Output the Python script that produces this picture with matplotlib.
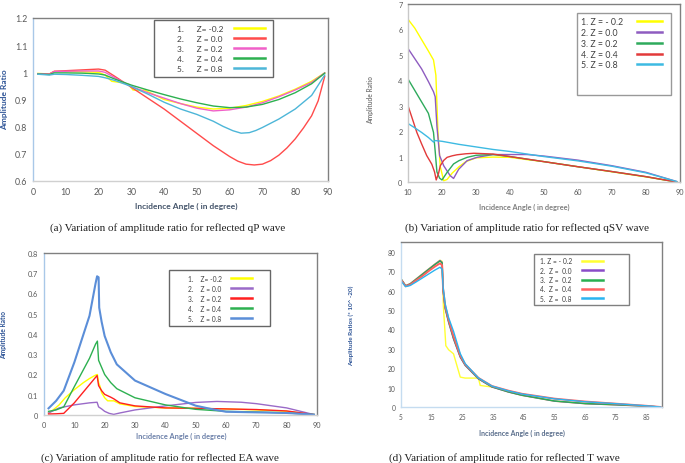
import matplotlib
matplotlib.use("Agg")
import matplotlib.pyplot as plt
from matplotlib.lines import Line2D
from matplotlib.offsetbox import HPacker, DrawingArea

# ---------------- data ----------------
# (a) qP wave
qp_labels = ["1.      Z= -0.2", "2.      Z = 0.0", "3.      Z = 0.2", "4.      Z = 0.4", "5.      Z = 0.8"]
qp_x = [1.5, 5, 6.5, 10, 15, 20, 22, 25, 30, 35, 40, 45, 50, 55, 60, 65, 70, 75, 80, 85, 89]
qp_red_x = [1.5, 5, 6.5, 10, 15, 20, 22, 25, 30, 35, 40, 45, 50, 55, 60, 62.5, 65, 67.5, 70, 72.5, 75, 77.5, 80,
            82.5, 85, 87, 89]
qp_red = [0.995, 0.994, 1.004, 1.006, 1.009, 1.012, 1.008, 0.985, 0.945, 0.905, 0.865, 0.82, 0.775, 0.73, 0.69,
          0.673, 0.662, 0.659, 0.662, 0.675, 0.695, 0.722, 0.755, 0.795, 0.84, 0.895, 0.985]
qp_yel_x = [1.5, 5, 6.5, 10, 15, 20, 22, 24, 27, 29, 30.5, 33, 34, 40, 45, 50, 55, 60, 65, 70, 75, 80, 85, 89]
qp_yel = [0.996, 0.994, 1.003, 1.003, 1.002, 1.0, 0.99, 0.967, 0.962, 0.957, 0.935, 0.933, 0.935, 0.9, 0.885,
          0.872, 0.865, 0.868, 0.878, 0.893, 0.913, 0.938, 0.967, 0.998]
qp_pink = [0.995, 0.993, 1.003, 1.004, 1.005, 1.005, 1.0, 0.98, 0.948, 0.925, 0.905, 0.885, 0.868, 0.858, 0.862,
           0.872, 0.888, 0.91, 0.935, 0.963, 0.998]
qp_green = [0.994, 0.992, 0.998, 0.998, 0.997, 0.994, 0.99, 0.975, 0.953, 0.935, 0.918, 0.902, 0.888, 0.876, 0.87,
            0.872, 0.882, 0.9, 0.925, 0.958, 0.997]
qp_cyan_x = [1.5, 5, 6.5, 10, 15, 20, 22, 25, 30, 35, 40, 45, 50, 55, 58, 61, 63.5, 66, 68, 70, 75, 80, 85, 89]
qp_cyan = [0.993, 0.990, 0.993, 0.992, 0.989, 0.985, 0.980, 0.97, 0.948, 0.92, 0.89, 0.865, 0.845, 0.82, 0.801,
           0.785, 0.776, 0.778, 0.786, 0.797, 0.828, 0.865, 0.915, 0.99]

# (b) qSV wave
sv_labels = ["1. Z = - 0.2", "2. Z = 0.0", "3. Z = 0.2", "4. Z = 0.4", "5. Z = 0.8"]
sv_yel_x = [10, 12, 14, 16, 17.5, 18.2, 18.8, 19.5, 20.5, 21.5, 23, 25, 27, 30, 35, 40, 45, 50, 60, 70, 80, 89]
sv_yel = [6.4, 6.05, 5.6, 5.15, 4.8, 4.2, 2.0, 0.6, 0.05, 0.1, 0.35, 0.6, 0.8, 0.95, 0.98, 0.97, 0.88, 0.8, 0.6,
          0.4, 0.2, 0.0]
sv_pur_x = [10, 12, 14, 16, 17.5, 18, 18.5, 19.3, 20.5, 22.4, 23.4, 24.9, 27.4, 30.3, 35, 40, 45, 50, 60, 70, 80, 89]
sv_pur = [5.25, 4.85, 4.45, 3.95, 3.55, 3.35, 2.2, 1.04, 0.64, 0.25, 0.14, 0.5, 0.84, 0.97, 1.08, 1.08, 1.08, 1.02,
          0.86, 0.64, 0.38, 0.02]
sv_grn_x = [10, 12, 14, 16, 17.5, 18, 18.5, 19.3, 20, 21.5, 23.4, 25, 27.4, 30, 35, 40, 45, 50, 60, 70, 80, 89]
sv_grn = [4.05, 3.6, 3.15, 2.7, 1.95, 1.2, 0.4, 0.15, 0.08, 0.38, 0.71, 0.84, 0.97, 1.05, 1.08, 1.0, 0.9, 0.8, 0.6,
          0.41, 0.21, 0.0]
sv_red_x = [10, 11, 12.6, 14, 15.5, 17, 17.8, 18.3, 19, 19.5, 20.5, 21.5, 23, 24.4, 27, 29.4, 35, 40, 45, 50, 60,
            70, 80, 89]
sv_red = [3.0, 2.6, 1.95, 1.5, 1.04, 0.7, 0.4, 0.08, 0.35, 0.64, 0.85, 0.97, 1.03, 1.07, 1.11, 1.13, 1.1, 1.0, 0.9,
          0.8, 0.6, 0.41, 0.21, 0.0]
sv_cyan_x = [10, 12, 14, 16, 17.5, 18, 20, 25, 30, 35, 40, 45, 50, 60, 70, 80, 89]
sv_cyan = [2.3, 2.13, 1.95, 1.75, 1.57, 1.63, 1.6, 1.48, 1.38, 1.28, 1.2, 1.1, 1.0, 0.83, 0.62, 0.36, 0.02]

# (c) EA wave
ea_labels = ["1.    Z= -0.2", "2.    Z = 0.0", "3.    Z = 0.2", "4.    Z = 0.4", "5.    Z = 0.8"]
ea_yel_x = [1.5, 3, 5, 7, 10, 13, 15, 17, 17.6, 18, 18.5, 19, 20, 21, 23, 25, 30, 40, 50, 60, 70, 80, 89]
ea_yel = [0.01, 0.025, 0.05, 0.085, 0.125, 0.16, 0.18, 0.197, 0.2, 0.16, 0.14, 0.11, 0.085, 0.07, 0.07, 0.055,
          0.042, 0.035, 0.033, 0.03, 0.025, 0.018, 0.003]
ea_pur_x = [1.5, 5, 10, 15, 17.5, 18, 19, 20, 21.5, 23, 25, 30, 40, 50, 57, 65, 70, 80, 89]
ea_pur = [0.01, 0.035, 0.05, 0.06, 0.063, 0.04, 0.03, 0.018, 0.008, 0.003, 0.01, 0.025, 0.045, 0.062, 0.067, 0.063,
          0.056, 0.035, 0.002]
ea_red_x = [1.5, 4, 6.5, 10, 15, 17.5, 18, 19, 20, 22, 23, 25, 30, 40, 50, 60, 70, 80, 89]
ea_red = [0.005, 0.006, 0.008, 0.06, 0.15, 0.195, 0.145, 0.12, 0.102, 0.088, 0.08, 0.06, 0.045, 0.035, 0.033, 0.03,
          0.027, 0.02, 0.002]
ea_grn_x = [1.5, 4, 6.5, 10, 15, 17, 17.6, 18, 19, 20, 22, 24, 30, 40, 50, 60, 70, 80, 89]
ea_grn = [0.018, 0.025, 0.04, 0.14, 0.28, 0.35, 0.365, 0.27, 0.235, 0.2, 0.16, 0.13, 0.085, 0.05, 0.028, 0.018,
          0.015, 0.01, 0.002]
ea_blu_x = [1.5, 4, 6.5, 10, 15, 17, 17.5, 18, 18.2, 19, 20, 22, 24, 30, 40, 50, 55, 60, 70, 80, 89]
ea_blu = [0.033, 0.07, 0.12, 0.26, 0.49, 0.65, 0.685, 0.68, 0.53, 0.46, 0.39, 0.31, 0.25, 0.17, 0.104, 0.046, 0.03,
          0.016, 0.013, 0.01, 0.002]

# (d) T wave
t_labels = ["1. Z = - 0.2", "2.  Z =  0.0", "3.  Z =  0.2", "4.  Z =  0.4", "5.  Z =  0.8"]
t_x = [5, 6.5, 8, 10, 12, 14, 16, 17.7, 18.4, 18.7, 19.4, 20.5, 22.1, 24.3, 25.9, 30.2, 34.6, 40, 44.4, 55, 65,
       75, 85, 89.5]
t_pur = [66, 62.5, 63.5, 66, 68.5, 71, 73.5, 75.5, 74.5, 60, 50.5, 43.6, 35, 25.6, 21.4, 14.5, 10.3, 7.7, 6.0, 3.0,
         1.7, 1.1, 0.4, 0]
t_grn = [66, 62.3, 63.3, 65.8, 68.3, 70.8, 73.3, 75.2, 74.2, 60.5, 51, 44, 35.4, 25.9, 21.6, 14.6, 10.4, 7.8, 6.1,
         3.1, 1.8, 1.2, 0.45, 0]
t_red = [65.5, 62.2, 63, 65.3, 67.5, 70, 72.3, 74, 73, 61, 52, 45, 36.5, 26.5, 22, 15, 10.8, 8.4, 6.8, 4.3, 2.8,
         1.7, 0.6, 0]
t_cyan = [65, 62, 62.6, 64.5, 66.5, 68.5, 70.5, 72, 71, 62, 53, 46, 39, 27.5, 22.3, 15, 10.8, 8.3, 6.7, 4.2, 2.7,
          1.7, 0.6, 0]
t_yel_x = [5, 6.5, 8, 10, 12, 14, 16, 17.7, 18.4, 18.8, 19.6, 20.5, 22.1, 23.2, 24.3, 25.9, 30.2, 30.8, 34.6, 36,
           40, 44.4, 55, 65, 75, 85, 89.5]
t_yel = [66, 62.6, 63.6, 66.1, 68.6, 71.1, 73.6, 75.6, 75, 52, 31.6, 29.5, 27.4, 21.4, 15.4, 14.9, 14.9, 11.1,
         10.3, 9.8, 7.7, 6.0, 3.0, 1.7, 1.1, 0.4, 0]

captions = ["(a) Variation of amplitude ratio for reflected qP wave",
            "(b) Variation of amplitude ratio for reflected qSV wave",
            "(c) Variation of amplitude ratio for reflected EA wave",
            "(d) Variation of amplitude ratio for reflected T wave"]
xlabel_text = "Incidence Angle ( in degree)"

# ---------------- figure ----------------
W, H = 685, 464
DPI = 100
fig = plt.figure(figsize=(W / DPI, H / DPI), dpi=DPI)
SANS = ["Lato", "DejaVu Sans"]
TICKC = "#595959"
BLUE_LBL = "#2F5597"
SLATE = "#44546A"


def box(l, t, r, b):
    return [l / W, 1 - b / H, (r - l) / W, (b - t) / H]


def style(ax, left_c, bottom_c, top_c="#808080", right_c="#808080", fs=6.0):
    for s, c in zip(["left", "bottom", "top", "right"], [left_c, bottom_c, top_c, right_c]):
        ax.spines[s].set_color(c)
        ax.spines[s].set_linewidth(1.0)
    ax.tick_params(length=0, labelsize=fs, labelcolor=TICKC, pad=4)
    for lab in ax.get_xticklabels() + ax.get_yticklabels():
        lab.set_family(SANS)


legends = []


def legend(ax, l, t, fs, handlelen, textpad, spacing, pad, lpad, rpad, ec="#404040", blank_rows=0):
    handles, labels = ax.get_legend_handles_labels()
    for _ in range(blank_rows):
        handles.append(Line2D([], [], alpha=0))
        labels.append(" ")
    leg = ax.legend(handles, labels, loc="upper left", bbox_to_anchor=(l / W, 1 - t / H),
                    bbox_transform=fig.transFigure,
                    markerfirst=False, frameon=True, fancybox=False, borderaxespad=0,
                    prop={"family": SANS, "size": fs}, handlelength=handlelen, handletextpad=textpad,
                    labelspacing=spacing, borderpad=pad)
    fr = leg.get_frame()
    fr.set_edgecolor(ec)
    fr.set_linewidth(1.0)
    for t_ in leg.get_texts():
        t_.set_color("#404040")
    for ln in leg.get_lines():
        ln.set_linewidth(1.8)
    legends.append((leg, textpad * fs, lpad, rpad))
    return leg


# ---- (a)
axa = fig.add_axes(box(33, 19, 328, 182))
axa.plot(qp_yel_x, qp_yel, color="#FFFF00", lw=1.0, label=qp_labels[0])
axa.plot(qp_red_x, qp_red, color="#FF4B4B", lw=1.0, label=qp_labels[1])
axa.plot(qp_x, qp_pink, color="#F060C8", lw=1.0, label=qp_labels[2])
axa.plot(qp_x, qp_green, color="#2DB050", lw=1.0, label=qp_labels[3])
axa.plot(qp_cyan_x, qp_cyan, color="#4DB6D8", lw=1.0, label=qp_labels[4])
axa.set_xlim(0, 90)
axa.set_ylim(0.6, 1.2)
axa.set_xticks(range(0, 91, 10))
axa.set_yticks([0.6, 0.7, 0.8, 0.9, 1.0, 1.1, 1.2])
axa.set_yticklabels(["0.6", "0.7", "0.8", "0.9", "1", "1.1", "1.2"])
style(axa, "#A9C8E8", "#D0D0D0", fs=6.3)
legend(axa, 154, 21, 6.0, 3.7, 1.3, 0.35, 0.6, lpad=13, rpad=2)

# ---- (b)
axb = fig.add_axes(box(408, 5, 680, 183))
axb.plot(sv_yel_x, sv_yel, color="#FFFF00", lw=1.0, label=sv_labels[0])
axb.plot(sv_pur_x, sv_pur, color="#8E5CC0", lw=1.0, label=sv_labels[1])
axb.plot(sv_grn_x, sv_grn, color="#2EAA5C", lw=1.0, label=sv_labels[2])
axb.plot(sv_red_x, sv_red, color="#E23A3A", lw=1.0, label=sv_labels[3])
axb.plot(sv_cyan_x, sv_cyan, color="#3DBAE2", lw=1.0, label=sv_labels[4])
axb.set_xlim(10, 90)
axb.set_ylim(0, 7)
axb.set_xticks(range(10, 91, 10))
axb.set_yticks(range(0, 8))
style(axb, "#C8C8C8", "#C8C8C8", fs=5.3)
legend(axb, 577, 14, 6.3, 2.9, 1.5, 0.2, 0.5, lpad=0, rpad=3.5, ec="#808080", blank_rows=2)

# ---- (c)
axc = fig.add_axes(box(44, 254, 317, 416))
axc.plot(ea_yel_x, ea_yel, color="#FFFF00", lw=1.0, label=ea_labels[0])
axc.plot(ea_pur_x, ea_pur, color="#9A6AC8", lw=1.0, label=ea_labels[1])
axc.plot(ea_red_x, ea_red, color="#FF2020", lw=1.0, label=ea_labels[2])
axc.plot(ea_grn_x, ea_grn, color="#2DB050", lw=1.0, label=ea_labels[3])
axc.plot(ea_blu_x, ea_blu, color="#5B8ED8", lw=1.5, label=ea_labels[4])
axc.set_xlim(0, 90)
axc.set_ylim(0, 0.8)
axc.set_xticks(range(0, 91, 10))
axc.set_yticks([0, 0.1, 0.2, 0.3, 0.4, 0.5, 0.6, 0.7, 0.8])
axc.set_yticklabels(["0", "0.1", "0.2", "0.3", "0.4", "0.5", "0.6", "0.7", "0.8"])
style(axc, "#A9C8E8", "#D0D0D0", fs=5.3)
legend(axc, 169, 271, 4.8, 3.15, 1.35, 0.45, 0.7, lpad=10, rpad=10)

# ---- (d)
axd = fig.add_axes(box(401, 243, 662, 408))
axd.plot(t_yel_x, t_yel, color="#FFFF33", lw=1.0, label=t_labels[0])
axd.plot(t_x, t_pur, color="#8A4CC8", lw=1.0, label=t_labels[1])
axd.plot(t_x, t_grn, color="#28B050", lw=1.0, label=t_labels[2])
axd.plot(t_x, t_red, color="#FF6060", lw=1.4, label=t_labels[3])
axd.plot(t_x, t_cyan, color="#2AB4F0", lw=1.0, label=t_labels[4])
axd.set_xlim(5, 90)
axd.set_ylim(0, 85)
axd.set_xticks(range(5, 86, 10))
axd.set_yticks(range(0, 81, 10))
style(axd, "#C5DCF0", "#C5DCF0", fs=4.8)
legend(axd, 534, 255, 4.8, 3.15, 1.5, 0.35, 0.5, lpad=2, rpad=16, ec="#606060")

# ---- axis labels
lab_kw = dict(fontweight="bold", family=SANS)
fig.text(5 / W, 1 - 100 / H, "Amplitude Ratio", rotation=90, ha="center", va="center", color=BLUE_LBL,
         fontsize=6.0, **lab_kw)
fig.text(371 / W, 1 - 100 / H, "Amplitude Ratio", rotation=90, ha="center", va="center", color="#7F7F7F",
         fontsize=4.8, **lab_kw)
fig.text(4 / W, 1 - 335 / H, "Amplitude Ratio", rotation=90, ha="center", va="center", color=BLUE_LBL,
         fontsize=4.8, **lab_kw)
fig.text(351 / W, 1 - 326 / H, "Amplitude Ratios (* 10^ -20)", rotation=90, ha="center", va="center",
         color=BLUE_LBL, fontsize=4.6, **lab_kw)

fig.text(186 / W, 1 - 206 / H, xlabel_text, ha="center", va="center", color=SLATE, fontsize=6.0, **lab_kw)
fig.text(524 / W, 1 - 207 / H, xlabel_text, ha="center", va="center", color="#7F7F7F", fontsize=5.3, **lab_kw)
fig.text(181 / W, 1 - 436 / H, xlabel_text, ha="center", va="center", color="#6A7FA8", fontsize=5.3, **lab_kw)
fig.text(522 / W, 1 - 433 / H, xlabel_text, ha="center", va="center", color="#5A6E8C", fontsize=5.0, **lab_kw)

# ---- captions
cap_kw = dict(ha="center", va="center", family=["Liberation Serif", "DejaVu Serif"], fontsize=8.0, color="#222222")
fig.text(168 / W, 1 - 228 / H, captions[0], **cap_kw)
fig.text(527 / W, 1 - 228 / H, captions[1], **cap_kw)
fig.text(160 / W, 1 - 458 / H, captions[2], **cap_kw)
fig.text(504 / W, 1 - 458 / H, captions[3], **cap_kw)

# ---- left-align legend labels, keep sample lines in one column, add inner margins
fig.canvas.draw()
renderer = fig.canvas.get_renderer()
for leg, base_sep, lpad, rpad in legends:
    try:
        for col in leg._legend_handle_box.get_children():
            items = col.get_children()
            widths = [it.get_children()[0].get_window_extent(renderer).width for it in items]
            wmax = max(widths)
            for it, w in zip(items, widths):
                it.sep = base_sep + (wmax - w) * 72.0 / DPI
                txt, hnd = it._children[0], it._children[1]
                if lpad > 0:
                    left = HPacker(children=[DrawingArea(lpad, 0.1), txt], pad=0, sep=0, align="baseline")
                    it._children[0] = left
                if rpad > 0:
                    right = HPacker(children=[hnd, DrawingArea(rpad, 0.1)], pad=0, sep=0, align="baseline")
                    it._children[1] = right
    except Exception:
        pass

fig.savefig("out.png", dpi=DPI, facecolor="white")
